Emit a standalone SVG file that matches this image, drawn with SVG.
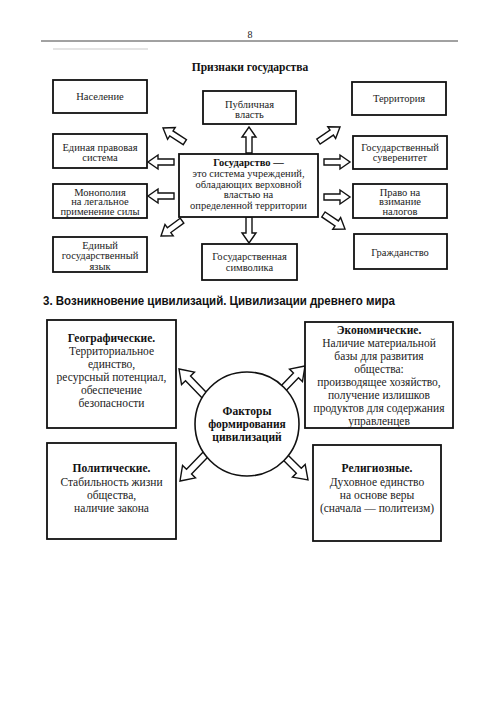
<svg xmlns="http://www.w3.org/2000/svg" width="500" height="712" viewBox="0 0 500 712">
<style>
.bg{fill:#fff}
.box{fill:#fff;stroke:#111;stroke-width:1.8}
.arr{fill:#fff;stroke:#111;stroke-width:1.4;stroke-linejoin:miter}
.t{font-family:"Liberation Serif","DejaVu Serif",serif;font-size:10.5px;fill:#222;text-anchor:middle}
.t2{font-family:"Liberation Serif","DejaVu Serif",serif;font-size:11.5px;fill:#222;text-anchor:middle}
.b{font-weight:bold;fill:#111}
.h{font-family:"Liberation Sans",Arial,sans-serif;font-size:13.5px;font-weight:bold;fill:#111}
</style>
<defs>
<path id="sa" d="M-26,-3 L-10,-3 L-10,-7 L0,0 L-10,7 L-10,3 L-26,3 Z"/>
<path id="ba" d="M-38,-3.5 L-13,-3.5 L-13,-9 L0,0 L-13,9 L-13,3.5 L-38,3.5 Z"/>
</defs>
<rect class="bg" x="0" y="0" width="500" height="712"/>
<text class="t" x="250" y="38" style="font-size:10px">8</text>
<line x1="41" y1="41" x2="458" y2="41" stroke="#444" stroke-width="1"/>
<line x1="53" y1="49" x2="148" y2="49" stroke="#bbb" stroke-width="0.8"/>
<text class="t2 b" x="250" y="71">Признаки государства</text>

<g id="connectors">
<use href="#sa" class="arr" transform="translate(249,127) rotate(-90)"/>
<use href="#sa" class="arr" transform="translate(249,243) rotate(90)"/>
<use href="#sa" class="arr" transform="translate(148,162) rotate(180)"/>
<use href="#sa" class="arr" transform="translate(148,196) rotate(180)"/>
<use href="#sa" class="arr" transform="translate(350,162)"/>
<use href="#sa" class="arr" transform="translate(350,197)"/>
<use href="#sa" class="arr" transform="translate(163,128) rotate(-147)"/>
<use href="#sa" class="arr" transform="translate(161,236) rotate(144)"/>
<use href="#sa" class="arr" transform="translate(340,127) rotate(-34)"/>
<use href="#sa" class="arr" transform="translate(345,229) rotate(34)"/>
<use href="#ba" class="arr" transform="translate(179,369) rotate(-134)"/>
<use href="#ba" class="arr" transform="translate(305,366) rotate(-46)"/>
<use href="#ba" class="arr" transform="translate(180,481) rotate(134)"/>
<use href="#ba" class="arr" transform="translate(308,480) rotate(45)"/>
</g>

<g id="n-naselenie"><rect class="box" x="53" y="80" width="94" height="33"/><text class="t" x="100" y="100">Население</text></g>
<g id="n-vlast"><rect class="box" x="203" y="91" width="93" height="33"/><text class="t" x="249.5" y="107.5">Публичная</text><text class="t" x="249.5" y="118">власть</text></g>
<g id="n-territoriya"><rect class="box" x="352" y="82" width="94" height="33"/><text class="t" x="399" y="101.5">Территория</text></g>
<g id="n-pravo"><rect class="box" x="53" y="134" width="94" height="34"/><text class="t" x="100" y="150.5">Единая правовая</text><text class="t" x="100" y="161">система</text></g>
<g id="n-suverenitet"><rect class="box" x="353" y="136" width="94" height="33"/><text class="t" x="400" y="150.5">Государственный</text><text class="t" x="400" y="161">суверенитет</text></g>
<g id="n-center"><rect class="box" x="179" y="154" width="139" height="63"/>
<text class="t b" x="248.5" y="166">Государство —</text>
<text class="t" x="248.5" y="177">это система учреждений,</text>
<text class="t" x="248.5" y="187.5">обладающих верховной</text>
<text class="t" x="248.5" y="198">властью на</text>
<text class="t" x="248.5" y="208.5">определенной территории</text></g>
<g id="n-monopoliya"><rect class="box" x="53" y="184" width="94" height="34"/><text class="t" x="100" y="195.5">Монополия</text><text class="t" x="100" y="205">на легальное</text><text class="t" x="100" y="214.5">применение силы</text></g>
<g id="n-nalogi"><rect class="box" x="353" y="184" width="94" height="34"/><text class="t" x="400" y="195.5">Право на</text><text class="t" x="400" y="205">взимание</text><text class="t" x="400" y="214.5">налогов</text></g>
<g id="n-yazyk"><rect class="box" x="53" y="237" width="94" height="35"/><text class="t" x="100" y="248.5">Единый</text><text class="t" x="100" y="259">государственный</text><text class="t" x="100" y="269.5">язык</text></g>
<g id="n-grazhdanstvo"><rect class="box" x="354" y="234" width="93" height="35"/><text class="t" x="400" y="255.5">Гражданство</text></g>
<g id="n-simvolika"><rect class="box" x="202" y="244" width="95" height="36"/><text class="t" x="249.5" y="259.5">Государственная</text><text class="t" x="249.5" y="270.5">символика</text></g>

<text class="h" x="43" y="305" textLength="352" lengthAdjust="spacingAndGlyphs">3. Возникновение цивилизаций. Цивилизации древнего мира</text>

<g id="n-geo"><rect class="box" x="47" y="320" width="129" height="108"/>
<text class="t2 b" x="111.5" y="342">Географические.</text>
<text class="t2" x="111.5" y="355">Территориальное</text>
<text class="t2" x="111.5" y="368">единство,</text>
<text class="t2" x="111.5" y="381">ресурсный потенциал,</text>
<text class="t2" x="111.5" y="394">обеспечение</text>
<text class="t2" x="111.5" y="407">безопасности</text></g>
<g id="n-econ"><rect class="box" x="305" y="322" width="148" height="106"/>
<text class="t2 b" x="379" y="334">Экономические.</text>
<text class="t2" x="379" y="347">Наличие материальной</text>
<text class="t2" x="379" y="360">базы для развития</text>
<text class="t2" x="379" y="373">общества:</text>
<text class="t2" x="379" y="386">производящее хозяйство,</text>
<text class="t2" x="379" y="399">получение излишков</text>
<text class="t2" x="379" y="412">продуктов для содержания</text>
<text class="t2" x="379" y="425">управленцев</text></g>
<g id="n-factors"><circle cx="247" cy="424" r="52" fill="#fff" stroke="#111" stroke-width="1.6"/>
<text class="t2 b" x="247" y="415">Факторы</text>
<text class="t2 b" x="247" y="428">формирования</text>
<text class="t2 b" x="247" y="441">цивилизаций</text></g>
<g id="n-polit"><rect class="box" x="47" y="443" width="129" height="96"/>
<text class="t2 b" x="111.5" y="472">Политические.</text>
<text class="t2" x="111.5" y="485.5">Стабильность жизни</text>
<text class="t2" x="111.5" y="499">общества,</text>
<text class="t2" x="111.5" y="512">наличие закона</text></g>
<g id="n-relig"><rect class="box" x="313" y="445" width="128" height="96"/>
<text class="t2 b" x="377" y="472">Религиозные.</text>
<text class="t2" x="377" y="485.5">Духовное единство</text>
<text class="t2" x="377" y="499">на основе веры</text>
<text class="t2" x="377" y="512">(сначала — политеизм)</text></g>
</svg>
